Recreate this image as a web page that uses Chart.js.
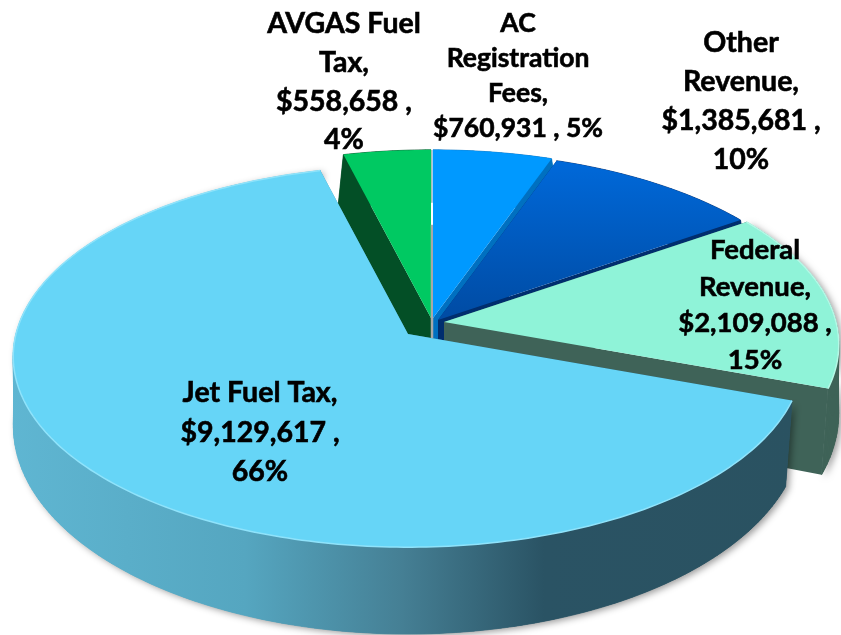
<!DOCTYPE html>
<html>
<head>
<meta charset="utf-8">
<title>Revenue pie</title>
<script src="https://cdn.jsdelivr.net/npm/chart.js@4"></script>
<style>
    html, body { margin: 0; padding: 0; background: #fff; overflow: hidden; }
    canvas { display: block; }
</style>
</head>
<body>
<canvas id="revenueChart" width="841" height="635"></canvas>
<script>
// --- Data ---
const categories = ['AC Registration Fees', 'Other Revenue', 'Federal Revenue', 'Jet Fuel Tax', 'AVGAS Fuel Tax'];
const revenue = [760931, 1385681, 2109088, 9129617, 558658];

// label text, already wrapped the way the picture wraps it
const labelLines = [
    ['AC', 'Registration', 'Fees,', '$760,931 , 5%'],
    ['Other', 'Revenue,', '$1,385,681 ,', '10%'],
    ['Federal', 'Revenue,', '$2,109,088 ,', '15%'],
    ['Jet Fuel Tax,', '$9,129,617 ,', '66%'],
    ['AVGAS Fuel', 'Tax,', '$558,658 ,', '4%']
];

// --- Styles (same order as categories) ---
const topColors = ['#0099ff', null, '#8ff3d8', '#66d5f7', '#00c962'];
const wallColors = ['#0070c0', '#002e6e', '#3f6358', null, '#034f26'];
const rimColors = [null, null, '#b5f8e6', '#8fe3fb', null];
const pull = [[2, 0], [7, 2], [13, 4], [-23, 16], [0, 0]];
const labelPos = [[518, 23, 35.3], [741, 43, 39], [755, 250, 36.7], [260, 393, 39.5], [344, 24, 38.7]];
const labelSize = [26.5, 28.5, 27.5, 28.5, 28.5];

// the pie is seen in perspective, so both faces get their own projection
const centerX = 431;
const centerY = 318;
const topPlane = { rx: 392, ry: 188, p: 0.118, drop: 0 };
const basePlane = { rx: 394, ry: 207, p: 0.055, drop: 81 };

function project(plane, angle, radius, shift) {
    const u = Math.cos(angle) * radius;
    const v = Math.sin(angle) * radius;
    const w = 1 / (1 - plane.p * v);
    return [centerX + shift[0] + plane.rx * u * w, centerY + shift[1] + plane.drop + plane.ry * v * w];
}

function polygon(ctx, points) {
    ctx.beginPath();
    points.forEach((pt, i) => (i ? ctx.lineTo(pt[0], pt[1]) : ctx.moveTo(pt[0], pt[1])));
    ctx.closePath();
}

function arcPoints(plane, start, end, shift) {
    const points = [];
    const steps = Math.max(4, Math.ceil((end - start) * 60));
    for (let i = 0; i <= steps; i++) {
        points.push(project(plane, start + (end - start) * i / steps, 1, shift));
    }
    return points;
}

function drawSlice(ctx, arc, i) {
    const shift = pull[i];
    const start = arc.startAngle;
    const end = arc.endAngle;
    const apexTop = project(topPlane, 0, 0, shift);
    const apexBase = project(basePlane, 0, 0, shift);
    const topArc = arcPoints(topPlane, start, end, shift);
    const baseArc = arcPoints(basePlane, start, end, shift);

    let wallFill = wallColors[i];
    if (i === 3) {
        wallFill = ctx.createLinearGradient(10, 0, 795, 0);
        wallFill.addColorStop(0, '#5fb6d2');
        wallFill.addColorStop(0.3, '#55a6c0');
        wallFill.addColorStop(0.5, '#457f94');
        wallFill.addColorStop(0.68, '#2a5364');
        wallFill.addColorStop(1, '#2a5261');
    }

    // soft shadow under the two big slices
    if (i === 2 || i === 3) {
        ctx.save();
        ctx.shadowColor = 'rgba(0,0,0,0.4)';
        ctx.shadowBlur = 7;
        ctx.shadowOffsetX = 3;
        ctx.shadowOffsetY = 2;
        ctx.fillStyle = wallFill;
        polygon(ctx, topArc.concat(baseArc.slice().reverse()));
        ctx.fill();
        ctx.restore();
    }

    // outer wall, one strip per step so the sides stay straight
    ctx.fillStyle = wallFill;
    ctx.strokeStyle = wallFill;
    ctx.lineWidth = 0.7;
    for (let k = 0; k < topArc.length - 1; k++) {
        polygon(ctx, [topArc[k], topArc[k + 1], baseArc[k + 1], baseArc[k]]);
        ctx.fill();
        ctx.stroke();
    }

    // cut faces
    polygon(ctx, [apexTop, topArc[0], baseArc[0], apexBase]);
    ctx.fill();
    polygon(ctx, [apexTop, topArc[topArc.length - 1], baseArc[baseArc.length - 1], apexBase]);
    ctx.fill();

    // the grey sliver in the gap behind the first slice
    if (i === 0) {
        ctx.strokeStyle = '#a8a8a8';
        ctx.lineWidth = 2.5;
        ctx.beginPath();
        ctx.moveTo(432, baseArc[0][1] + 22);
        ctx.lineTo(432, apexBase[1]);
        ctx.stroke();
    }

    // top face
    let topFill = topColors[i];
    if (i === 1) {
        topFill = ctx.createLinearGradient(0, 165, 0, 320);
        topFill.addColorStop(0, '#0068d8');
        topFill.addColorStop(1, '#004ba3');
    }
    ctx.fillStyle = topFill;
    polygon(ctx, [apexTop].concat(topArc));
    ctx.fill();

    if (rimColors[i]) {
        ctx.strokeStyle = rimColors[i];
        ctx.lineWidth = 1.5;
        ctx.beginPath();
        topArc.forEach((pt, k) => (k ? ctx.lineTo(pt[0], pt[1]) : ctx.moveTo(pt[0], pt[1])));
        ctx.stroke();
    }
}

// --- Draws the slices the pie controller laid out ---
const pie3d = {
    id: 'pie3d',
    beforeDatasetsDraw(chart) {
        const ctx = chart.ctx;
        const arcs = chart.getDatasetMeta(0).data;
        ctx.save();
        [4, 0, 1, 2, 3].forEach(i => drawSlice(ctx, arcs[i], i));
        ctx.restore();
        return false;
    },
    afterDraw(chart) {
        const ctx = chart.ctx;
        ctx.save();
        ctx.fillStyle = '#000';
        ctx.strokeStyle = '#000';
        ctx.lineWidth = 0.6;
        ctx.textAlign = 'center';
        ctx.textBaseline = 'middle';
        labelLines.forEach((lines, i) => {
            const pos = labelPos[i];
            ctx.font = 'bold ' + labelSize[i] + 'px Lato';
            lines.forEach((line, k) => {
                ctx.fillText(line, pos[0], pos[1] + k * pos[2]);
                ctx.strokeText(line, pos[0], pos[1] + k * pos[2]);
            });
        });
        ctx.restore();
    }
};

new Chart(document.getElementById('revenueChart').getContext('2d'), {
    type: 'pie',
    data: {
        labels: categories,
        datasets: [{ data: revenue, borderWidth: 0 }]
    },
    options: {
        responsive: false,
        animation: false,
        events: [],
        plugins: { legend: { display: false }, tooltip: { enabled: false } }
    },
    plugins: [pie3d]
});
</script>
</body>
</html>
